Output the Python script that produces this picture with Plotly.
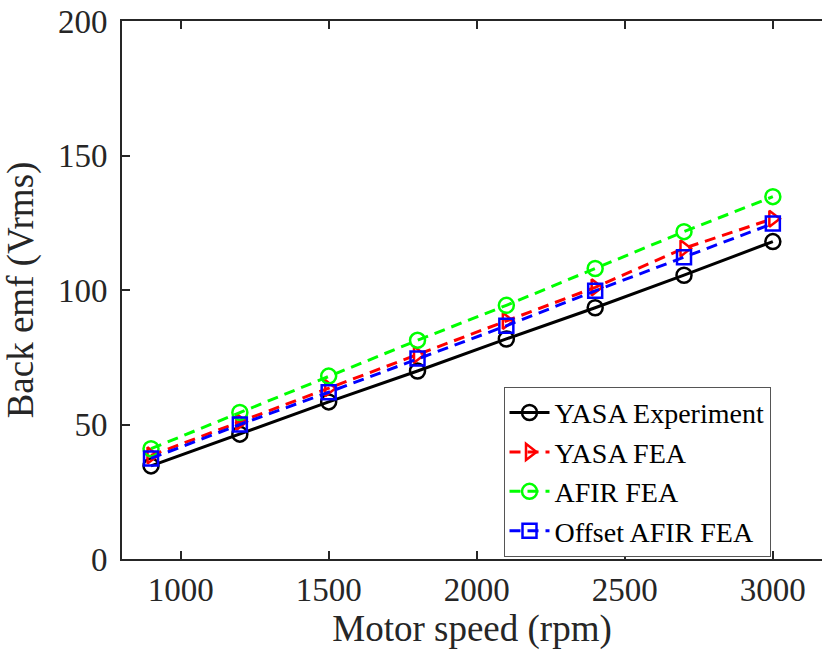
import plotly.graph_objects as go

speed = [900, 1200, 1500, 1800, 2100, 2400, 2700, 3000]
yasa_exp = [34.6, 46.4, 58.4, 69.9, 81.8, 93.4, 105.5, 118.0]
yasa_fea = [38.5, 51.0, 63.5, 76.0, 88.5, 101.0, 115.5, 126.5]
afir_fea = [41.0, 54.5, 68.0, 81.3, 94.3, 108.0, 121.7, 134.7]
offset_afir_fea = [37.4, 50.0, 62.0, 74.5, 86.7, 99.7, 112.2, 124.7]

x_ticks = [1000, 1500, 2000, 2500, 3000]
y_ticks = [0, 50, 100, 150, 200]

FONT = "Liberation Serif, Times New Roman, serif"
AX = "#262626"

series = [
    ("YASA Experiment", yasa_exp, "#000000", "solid", "circle-open"),
    ("YASA FEA", yasa_fea, "#FF0000", "11px,7px", "triangle-right-open"),
    ("AFIR FEA", afir_fea, "#00FF00", "11px,7px", "circle-open"),
    ("Offset AFIR FEA", offset_afir_fea, "#0000FF", "11px,7px", "square-open"),
]

fig = go.Figure()
for name, vals, col, dash, sym in series:
    fig.add_trace(go.Scatter(
        x=speed, y=vals, name=name, mode="lines+markers",
        line=dict(color=col, width=3, dash=dash),
        marker=dict(symbol=sym, size=15 if "circle" in sym else 14,
                    color=col, line=dict(color=col, width=2.5)),
    ))

fig.update_layout(
    width=822, height=654,
    margin=dict(l=122, r=0, t=21, b=95),
    paper_bgcolor="white", plot_bgcolor="white",
    font=dict(family=FONT, color=AX, size=33),
    showlegend=True,
    legend=dict(
        x=0.545, y=0.32, xanchor="left", yanchor="top",
        bgcolor="white", bordercolor="#555555", borderwidth=1,
        font=dict(family=FONT, size=28, color="#000000"),
        itemwidth=40, tracegroupgap=0,
    ),
)
fig.update_xaxes(
    range=[802, 3166], tickvals=x_ticks, ticktext=[str(v) for v in x_ticks],
    showgrid=False, zeroline=False,
    showline=True, linecolor=AX, linewidth=2, mirror="ticks",
    ticks="inside", ticklen=8, tickwidth=2, tickcolor=AX,
    tickfont=dict(family=FONT, size=33, color=AX),
    title=dict(text="Motor speed (rpm)", font=dict(family=FONT, size=37, color=AX), standoff=9),
)
fig.update_yaxes(
    range=[0, 200], tickvals=y_ticks, ticktext=[str(v) for v in y_ticks],
    showgrid=False, zeroline=False,
    showline=True, linecolor=AX, linewidth=2, mirror=False,
    ticks="inside", ticklen=8, tickwidth=2, tickcolor=AX,
    tickfont=dict(family=FONT, size=33, color=AX),
    ticklabelstandoff=6,
    title=dict(text="Back emf (Vrms)", font=dict(family=FONT, size=37, color=AX), standoff=16),
)

fig.write_html("out.html")
